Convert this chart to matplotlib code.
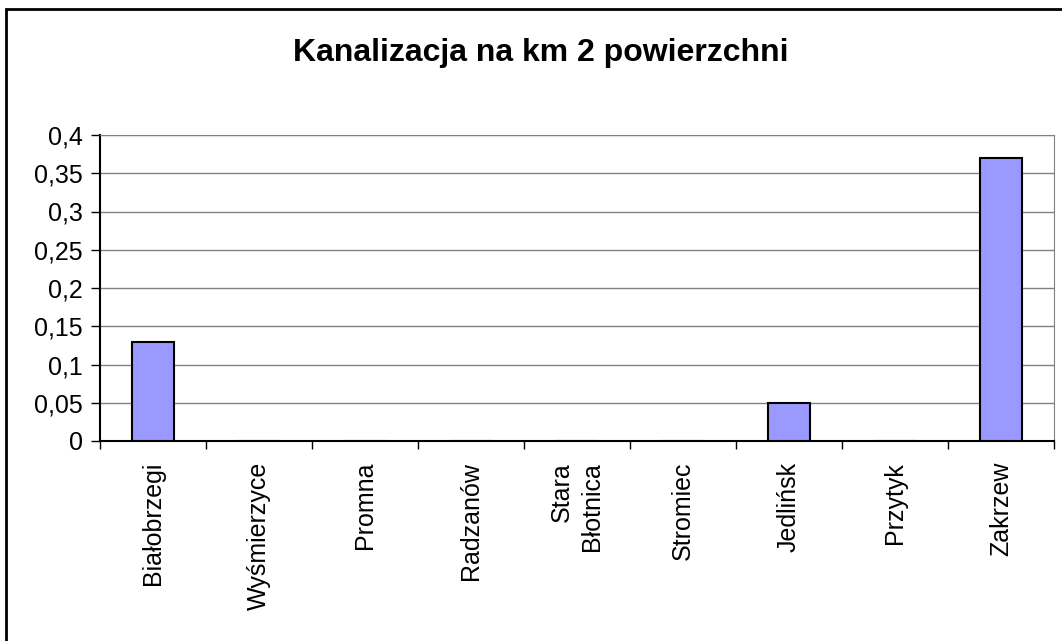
import numpy as np
import matplotlib.pyplot as plt
from matplotlib.patches import Rectangle
from matplotlib.ticker import FuncFormatter, FixedLocator, NullFormatter

plt.rcParams['font.family'] = ['Liberation Sans', 'DejaVu Sans']

gminy = ['Białobrzegi', 'Wyśmierzyce', 'Promna', 'Radzanów', 'Stara\nBłotnica',
         'Stromiec', 'Jedlińsk', 'Przytyk', 'Zakrzew']
kanalizacja = [0.13, 0, 0, 0, 0, 0, 0.05, 0, 0.37]
y_ticks = [0, 0.05, 0.1, 0.15, 0.2, 0.25, 0.3, 0.35, 0.4]

fig = plt.figure(figsize=(10.62, 6.41), dpi=100)
ax = fig.add_axes([100 / 1062, 1 - 441 / 641, 954 / 1062, 306 / 641])

x = np.arange(len(gminy))
ax.bar(x, kanalizacja, width=0.4, color='#9999FF', edgecolor='black', linewidth=1.5, zorder=3)

ax.set_xlim(-0.5, len(gminy) - 0.5)
ax.set_ylim(0, 0.4)
ax.set_yticks(y_ticks)
ax.yaxis.set_major_formatter(FuncFormatter(lambda v, p: ('%g' % v).replace('.', ',')))
ax.yaxis.grid(True, color='#808080', linewidth=1, zorder=0)

# ticks between categories, labels centered under bars
ax.xaxis.set_major_locator(FixedLocator(np.arange(-0.5, len(gminy), 1.0)))
ax.xaxis.set_major_formatter(NullFormatter())
ax.set_xticks(x, minor=True)
ax.set_xticklabels(gminy, minor=True, rotation=90, va='top', ha='center',
                   multialignment='right', linespacing=1.35, fontsize=18)
ax.tick_params(axis='x', which='minor', length=0, pad=15)
ax.tick_params(axis='x', which='major', direction='out', length=6, width=1)
ax.tick_params(axis='y', direction='out', length=6.5, width=1, labelsize=18, pad=6)

for s in ['top', 'right']:
    ax.spines[s].set_color('#808080')
for s in ['left', 'bottom']:
    ax.spines[s].set_color('black')
    ax.spines[s].set_linewidth(1.5)

fig.text(0.509, 1 - 61 / 641, 'Kanalizacja na km 2 powierzchni', ha='center', va='baseline',
         fontsize=23, fontweight='bold')

# chart area border
fig.patches.append(Rectangle((6 / 1062, -0.1), 1.2, 1 - 9 / 641 + 0.1, transform=fig.transFigure,
                             fill=False, edgecolor='black', linewidth=2))

fig.savefig('out.png', dpi=100)
